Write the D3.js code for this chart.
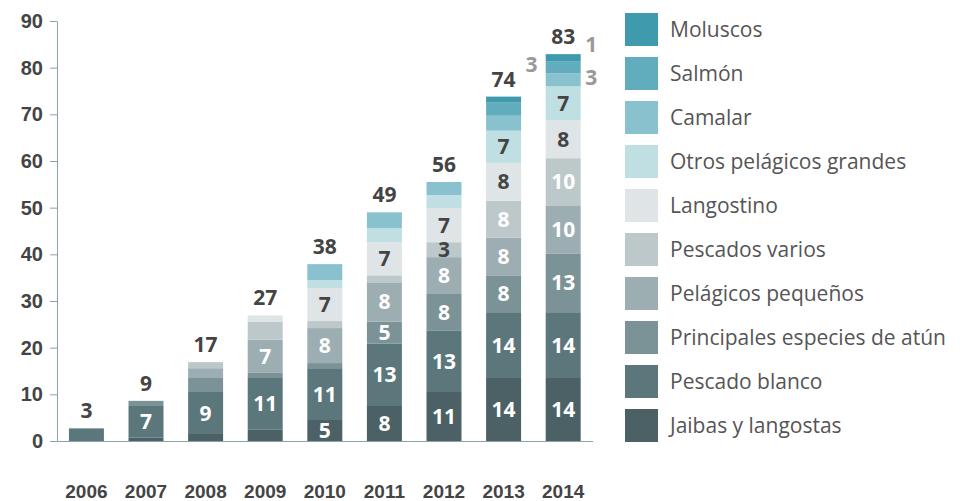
<!DOCTYPE html>
<html>
<head>
<meta charset="utf-8">
<script src="https://cdn.jsdelivr.net/npm/d3@7"></script>
<style>
  body { margin: 0; background: #fff; }
  svg { display: block; font-family: "Open Sans", sans-serif; }
  .axis path, .axis line { stroke: #8aa4aa; }
  .axis text { fill: #444; font-size: 20px; font-weight: bold; }
  .axis.x text { font-size: 19px; }
</style>
</head>
<body>
<svg></svg>
<script>
// Years and series (bottom of the stack first)
const years = ["2006", "2007", "2008", "2009", "2010", "2011", "2012", "2013", "2014"];
const seriesNames = ["Jaibas y langostas", "Pescado blanco", "Principales especies de atún",
  "Pelágicos pequeños", "Pescados varios", "Langostino", "Otros pelágicos grandes",
  "Camalar", "Salmón", "Moluscos"];
const seriesColors = ["#4b6166", "#5b777c", "#7b9397", "#9daeb2", "#bdc8ca",
  "#dfe4e7", "#bfdfe3", "#8ac1ce", "#62adbd", "#3f9aae"];

// values
const jaibas         = [0,   0.7, 1.5, 2.4, 4.5, 7.5, 10.5, 13.5, 13.5];
const pescadoBlanco  = [2.7, 6.8, 9.0, 11.1, 11.1, 13.4, 13.1, 14.1, 14.1];
const atun           = [0,   1.1, 3.0, 1.1, 1.1, 4.7, 7.9, 7.9, 12.6];
const pelagicosPeq   = [0,   0,   2.1, 7.1, 7.5, 8.4, 7.9, 8.1, 10.3];
const pescadosVarios = [0,   0,   1.3, 3.9, 1.5, 1.5, 3.2, 7.9, 10.1];
const langostino     = [0,   0,   0,   1.3, 7.1, 7.1, 7.3, 8.1, 8.1];
const otrosPelGrand  = [0,   0,   0,   0,   1.7, 3.0, 2.8, 6.9, 7.3];
const camalar        = [0,   0,   0,   0,   3.4, 3.4, 2.8, 3.2, 2.8];
const salmon         = [0,   0,   0,   0,   0,   0,   0,   2.8, 2.6];
const moluscos       = [0,   0,   0,   0,   0,   0,   0,   1.3, 1.5];
const totals         = [3, 9, 17, 27, 38, 49, 56, 74, 83];

// small values written beside the last bars
const noteYears  = ["2013", "2014", "2014"];
const noteTexts  = ["3", "1", "3"];
const noteValues = [80.6, 84.9, 78];

const yTicks = [0, 10, 20, 30, 40, 50, 60, 70, 80, 90];

const seriesValues = [jaibas, pescadoBlanco, atun, pelagicosPeq, pescadosVarios,
  langostino, otrosPelGrand, camalar, salmon, moluscos];

const width = 970, height = 501;
const svg = d3.select("svg").attr("width", width).attr("height", height);

// table for the stack
const table = years.map((y, i) => {
  const row = { year: y };
  seriesNames.forEach((s, k) => { row[s] = seriesValues[k][i]; });
  return row;
});
const stacked = d3.stack().keys(seriesNames)(table);

const x = d3.scaleBand().domain(years).range([57, 592.6])
  .paddingInner(0.413).paddingOuter(0.2);
const y = d3.scaleLinear().domain([0, 90]).range([441, 21]);

// bars
const layers = svg.append("g").selectAll("g")
  .data(stacked)
  .join("g")
  .attr("fill", (d, i) => seriesColors[i]);

layers.selectAll("rect")
  .data(d => d)
  .join("rect")
  .attr("x", d => x(d.data.year))
  .attr("width", x.bandwidth())
  .attr("y", d => y(d[1]))
  .attr("height", d => y(d[0]) - y(d[1]));

// labels inside segments
const segLabels = [];
stacked.forEach((layer, k) => {
  layer.forEach(d => {
    const v = d[1] - d[0];
    const show = v >= 4.5 || (d.data.year === "2012" && seriesNames[k] === "Pescados varios");
    if (show) segLabels.push({ year: d.data.year, v: v, mid: (d[0] + d[1]) / 2, k: k });
  });
});

svg.append("g").selectAll("text")
  .data(segLabels)
  .join("text")
  .attr("x", d => x(d.year) + x.bandwidth() / 2)
  .attr("y", d => y(d.mid))
  .attr("dy", "0.36em")
  .attr("text-anchor", "middle")
  .attr("font-size", 21)
  .attr("font-weight", "bold")
  .attr("fill", d => (d.k >= 5 || d.v < 4) ? "#444" : "#fff")
  .text(d => Math.round(d.v));

// totals above bars
svg.append("g").selectAll("text")
  .data(years)
  .join("text")
  .attr("x", d => x(d) + x.bandwidth() / 2)
  .attr("y", (d, i) => y(d3.sum(seriesValues, s => s[i])) - 10)
  .attr("text-anchor", "middle")
  .attr("font-size", 21)
  .attr("font-weight", "bold")
  .attr("fill", "#444")
  .text((d, i) => totals[i]);

// side notes
svg.append("g").selectAll("text")
  .data(noteYears)
  .join("text")
  .attr("x", d => x(d) + x.bandwidth() / 2 + 28)
  .attr("y", (d, i) => y(noteValues[i]))
  .attr("dy", "0.36em")
  .attr("text-anchor", "middle")
  .attr("font-size", 21)
  .attr("font-weight", "bold")
  .attr("fill", "#999")
  .text((d, i) => noteTexts[i]);

// axes
svg.append("g")
  .attr("class", "axis")
  .attr("transform", "translate(57,0)")
  .call(d3.axisLeft(y).tickValues(yTicks).tickSize(7).tickSizeOuter(0).tickPadding(7));

svg.append("g")
  .attr("class", "axis x")
  .attr("transform", "translate(0,441)")
  .call(d3.axisBottom(x).tickSize(0).tickSizeOuter(0).tickPadding(44));

// legend, top item is the last series
const legend = svg.append("g").attr("transform", "translate(625,13)");
const items = legend.selectAll("g")
  .data(seriesNames.slice().reverse())
  .join("g")
  .attr("transform", (d, i) => `translate(0,${i * 44})`);

items.append("rect")
  .attr("width", 33)
  .attr("height", 33)
  .attr("fill", (d, i) => seriesColors[seriesNames.length - 1 - i]);

items.append("text")
  .attr("x", 45)
  .attr("y", 16.5)
  .attr("dy", "0.36em")
  .attr("font-size", 21)
  .attr("fill", "#555")
  .text(d => d);
</script>
</body>
</html>
